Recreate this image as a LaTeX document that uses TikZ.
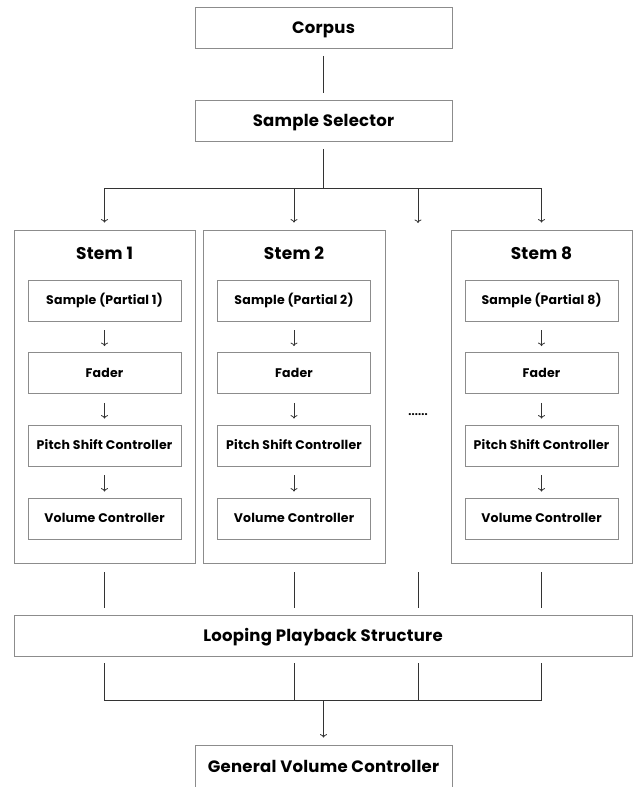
\documentclass[tikz,border=0pt]{standalone}
\usepackage{fontspec}
\setmainfont{Poppins}[LetterSpace=1.5]
\usetikzlibrary{arrows.meta}
\usetikzlibrary{positioning}

\begin{document}
\begin{tikzpicture}[
    x=1pt, y=-1pt,
    every node/.style={font=\bfseries, text depth=0pt},
    mainbox/.style={draw=black!45, line width=0.8pt, minimum width=257pt, minimum height=41pt, text height=11.5pt, font=\bfseries\fontsize{16.5}{18}\selectfont},
    stembox/.style={draw=black!45, line width=0.8pt, minimum height=333pt},
    stemtitle/.style={text height=12pt, font=\bfseries\fontsize{17}{19}\selectfont},
    inner/.style={draw=black!45, line width=0.8pt, minimum width=153pt, minimum height=41pt, text height=8.8pt, font=\bfseries\fontsize{12.5}{14}\selectfont},
    conn/.style={draw=black!80, line width=0.8pt},
    flow/.style={conn, -{To[length=3.5pt, width=7pt]}}
  ]
    \useasboundingbox (0,0) rectangle (636,787);
    \node[mainbox] (corpus) at (323.5,28) {Corpus};
    \node[mainbox] (sel) at (323.5,121) {Sample Selector};
    \coordinate (split) at (323.5,188);

    \foreach \n/\x/\w in {1/104.5/181, 2/294/182, 8/541.5/181} {
      \node[stembox, minimum width=\w pt] (stem\n) at (\x,396.5) {};
      \node[stemtitle] (title\n) at (\x,253) {Stem \n};
      \node[inner] (samp\n) at (\x,300.5) {Sample (Partial \n)};
      \node[inner] (fade\n) at (\x,373) {Fader};
      \node[inner] (pitch\n) at (\x,445.5) {Pitch Shift Controller};
      \node[inner] (vol\n) at (\x,518.5) {Volume Controller};
      \draw[flow, shorten <=9pt, shorten >=6pt] (samp\n) -- (fade\n);
      \draw[flow, shorten <=9pt, shorten >=6pt] (fade\n) -- (pitch\n);
      \draw[flow, shorten <=9pt, shorten >=6pt] (pitch\n) -- (vol\n);
    }
    \coordinate (gaptop) at (418,230);
    \coordinate (gapbot) at (418,563);
    \node[font=\bfseries\fontsize{11}{12}\selectfont, anchor=base] (dots) at (418,415) {......};

    \node[mainbox, minimum width=618pt] (loop) at (323,635.5) {Looping Playback Structure};
    \coordinate (merge) at (323.5,700);
    \node[mainbox, minimum height=44pt] (gvc) at (323.5,767) {General Volume Controller};

    \draw[conn, shorten <=7pt, shorten >=7pt] (corpus) -- (sel);
    \draw[conn, shorten <=7pt] (sel) -- (split);
    \draw[conn] (stem1.north |- split) -- (stem8.north |- split);
    \draw[flow, shorten >=7pt] (stem1.north |- split) -- (stem1.north);
    \draw[flow, shorten >=7pt] (stem2.north |- split) -- (stem2.north);
    \draw[flow, shorten >=7pt] (gaptop |- split) -- (gaptop);
    \draw[flow, shorten >=7pt] (stem8.north |- split) -- (stem8.north);

    \draw[conn, shorten <=9pt, shorten >=7pt] (stem1.south) -- (stem1.south |- loop.north);
    \draw[conn, shorten <=9pt, shorten >=7pt] (stem2.south) -- (stem2.south |- loop.north);
    \draw[conn, shorten <=9pt, shorten >=7pt] (gapbot) -- (gapbot |- loop.north);
    \draw[conn, shorten <=9pt, shorten >=7pt] (stem8.south) -- (stem8.south |- loop.north);

    \draw[conn, shorten <=7pt, shorten >=7pt] (stem1.south |- loop.south) -- (stem1.south |- merge) -- (stem8.south |- merge) -- (stem8.south |- loop.south);
    \draw[conn, shorten <=7pt] (stem2.south |- loop.south) -- (stem2.south |- merge);
    \draw[conn, shorten <=7pt] (gapbot |- loop.south) -- (gapbot |- merge);
    \draw[flow, shorten >=7pt] (merge) -- (gvc);
\end{tikzpicture}
\end{document}
